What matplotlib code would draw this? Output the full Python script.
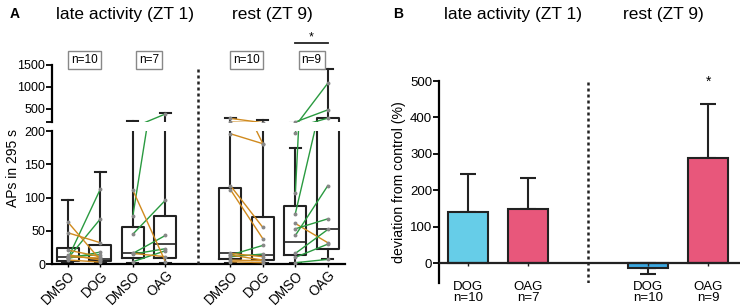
import numpy as np
import matplotlib.pyplot as plt
from matplotlib.lines import Line2D
import matplotlib.transforms as mtransforms

plt.rcParams['font.family'] = ['Liberation Sans', 'DejaVu Sans']

# ---- panel A data ----
box_pos = [0, 1, 2, 3, 5, 6, 7, 8]
box_labels = ["DMSO", "DOG", "DMSO", "OAG", "DMSO", "DOG", "DMSO", "OAG"]
box_q1 = [5, 4.5, 9, 9, 7, 6, 13.5, 22.5]
box_med = [11, 8, 16, 29.6, 17, 13.5, 32.6, 52]
box_q3 = [24, 28, 55, 72, 115, 71, 87, 290]
box_lo = [1, 1, 1, 1, 1, 1, 1, 7]
box_hi = [97, 139, 225, 410, 285, 245, 175, 1400]

# paired recordings (DMSO -> drug)
g1_pre = [8.5, 8.5, 8.5, 11, 63, 47, 21, 14, 11, 6]
g1_post = [113, 68, 18, 14, 6, 32, 11, 6, 9, 3]
g2_pre = [73, 45, 16, 15, 3.5, 111, 16]
g2_post = [380, 96, 43, 23, 20, 3.5, 11]
g3_pre = [196, 280, 118, 112, 13.5, 11, 16, 13.5, 6, 3.5]
g3_post = [181, 181, 55, 38, 28, 15, 11, 6, 5, 2]
g4_pre = [197, 107, 76, 61, 53, 43, 16, 10, 2]
g4_post = [474, 1082, 285, 32, 68, 118, 52, 30, 7]
pairs = [(0, g1_pre, g1_post), (2, g2_pre, g2_post),
         (5, g3_pre, g3_post), (7, g4_pre, g4_post)]
n_labels = ["n=10", "n=7", "n=10", "n=9"]

# ---- panel B data ----
bar_pos = [0, 1, 3, 4]
bar_names = ["DOG", "OAG", "DOG", "OAG"]
bar_n = ["n=10", "n=7", "n=10", "n=9"]
bar_vals = [140, 148, -14, 289]
bar_err = [105, 86, -15, 149]
bar_cols = ["#66CDE8", "#E8577B", "#3BA7E0", "#E8577B"]

fig = plt.figure(figsize=(7.43, 3.07), dpi=100)
axb = fig.add_axes([0.070, 0.140, 0.394, 0.433])
axt = fig.add_axes([0.070, 0.603, 0.394, 0.186], sharex=axb)

stats = []
for i in range(len(box_pos)):
    stats.append(dict(med=box_med[i], q1=box_q1[i], q3=box_q3[i],
                      whislo=box_lo[i], whishi=box_hi[i], fliers=[]))

green = "#2a9a40"
orange = "#d08a1e"
for ax in (axb, axt):
    ax.bxp(stats, positions=box_pos, widths=0.68, showfliers=False,
           capwidths=0.34,
           boxprops=dict(color="#222222", lw=1.5),
           whiskerprops=dict(color="#222222", lw=1.5),
           capprops=dict(color="#222222", lw=1.5),
           medianprops=dict(color="#222222", lw=1.2))
    for x0, pre, post in pairs:
        for a, b in zip(pre, post):
            c = green if b > a else orange
            ax.plot([x0, x0 + 1], [a, b], color=c, lw=1.0, zorder=3)
            ax.plot([x0, x0 + 1], [a, b], 'o', color="#888888", ms=1.8, zorder=4)
    for s in ("top", "right"):
        ax.spines[s].set_visible(False)
    ax.spines["left"].set_linewidth(1.6)
    ax.tick_params(axis="y", labelsize=9, width=1.3, length=4, pad=1)

axb.set_ylim(0, 200)
axt.set_ylim(200, 1500)
axb.set_xlim(-0.49, 8.52)
axb.set_yticks([0, 50, 100, 150, 200])
axt.set_yticks([200, 500, 1000, 1500])
axt.set_yticklabels(["", "500", "1000", "1500"])
axt.spines["bottom"].set_visible(False)
axt.tick_params(axis="x", bottom=False, labelbottom=False)
axb.spines["bottom"].set_linewidth(1.6)
axb.set_xticks(box_pos)
axb.set_xticklabels(box_labels, rotation=45, ha="right", rotation_mode="anchor",
                    fontsize=9.8)
axb.tick_params(axis="x", length=2, width=1, pad=1)

# dashed separator across both segments
tr = mtransforms.blended_transform_factory(axb.transData, fig.transFigure)
fig.add_artist(Line2D([4, 4], [1 - 264 / 307, 1 - 67 / 307], transform=tr,
                      color="#222222", lw=1.8, linestyle=(0, (1.2, 1.2))))

# n labels and significance
trt = mtransforms.blended_transform_factory(axt.transData, axt.transAxes)
for (x0, pre, post), lab in zip(pairs, n_labels):
    axt.text(x0 + 0.5, 1.09, lab, transform=trt, ha="center", va="center",
             fontsize=8.5, clip_on=False,
             bbox=dict(boxstyle="square,pad=0.25", fc="white", ec="#888888", lw=1))
axt.plot([7, 8], [1.386, 1.386], transform=trt, color="#222222", lw=1.3, clip_on=False)
axt.text(7.5, 1.38, "*", transform=trt, ha="center", va="bottom", fontsize=9)

fig.text(13 / 743, 1 - 168 / 307, "APs in 295 s", rotation=90, ha="center",
         va="center", fontsize=10)
fig.text(10 / 743, 1 - 14 / 307, "A", fontsize=10, fontweight="bold", va="center")
fig.text(125 / 743, 1 - 14 / 307, "late activity (ZT 1)", fontsize=12.5,
         ha="center", va="center")
fig.text(272 / 743, 1 - 14 / 307, "rest (ZT 9)", fontsize=12.5,
         ha="center", va="center")

# ---- panel B ----
ax2 = fig.add_axes([0.591, 0.078, 0.405, 0.658])
ax2.bar(bar_pos, bar_vals, width=0.66, color=bar_cols, edgecolor="#222222", lw=1.5,
        zorder=2)
ax2.errorbar(bar_pos, bar_vals, yerr=[np.zeros(4), np.abs(bar_err)], fmt="none",
             ecolor="#222222", elinewidth=1.5, capsize=6, capthick=1.5, zorder=1)
# downward error for negative bar
ax2.errorbar([bar_pos[2]], [bar_vals[2]], yerr=[[abs(bar_err[2])], [0]], fmt="none",
             ecolor="#222222", elinewidth=1.5, capsize=6, capthick=1.5, zorder=1)
ax2.axhline(0, color="#222222", lw=1.6, zorder=3)
ax2.axvline(2, color="#222222", lw=1.8, linestyle=(0, (1.2, 1.2)))
ax2.set_xlim(-0.48, 4.53)
ax2.set_ylim(-55, 500)
ax2.set_yticks([0, 100, 200, 300, 400, 500])
for s in ("top", "right", "bottom"):
    ax2.spines[s].set_visible(False)
ax2.spines["left"].set_linewidth(1.6)
ax2.tick_params(axis="y", labelsize=9.5, width=1.3, length=4, pad=1)
ax2.set_xticks([])
ax2.vlines(bar_pos, -7, 0, color="#222222", lw=1)
trb = mtransforms.blended_transform_factory(ax2.transData, fig.transFigure)
for x, nm, nn in zip(bar_pos, bar_names, bar_n):
    ax2.text(x, 1 - 287 / 307, nm, transform=trb, ha="center", va="center",
             fontsize=9.5)
    ax2.text(x, 1 - 298 / 307, nn, transform=trb, ha="center", va="center",
             fontsize=9.5)
ax2.text(4, 478, "*", ha="center", va="bottom", fontsize=10)
ax2.set_ylabel("deviation from control (%)", fontsize=10.2, labelpad=3)

fig.text(393 / 743, 1 - 14 / 307, "B", fontsize=10, fontweight="bold", va="center")
fig.text(513 / 743, 1 - 14 / 307, "late activity (ZT 1)", fontsize=12.5,
         ha="center", va="center")
fig.text(663 / 743, 1 - 14 / 307, "rest (ZT 9)", fontsize=12.5,
         ha="center", va="center")

fig.savefig("out.png", dpi=100)
